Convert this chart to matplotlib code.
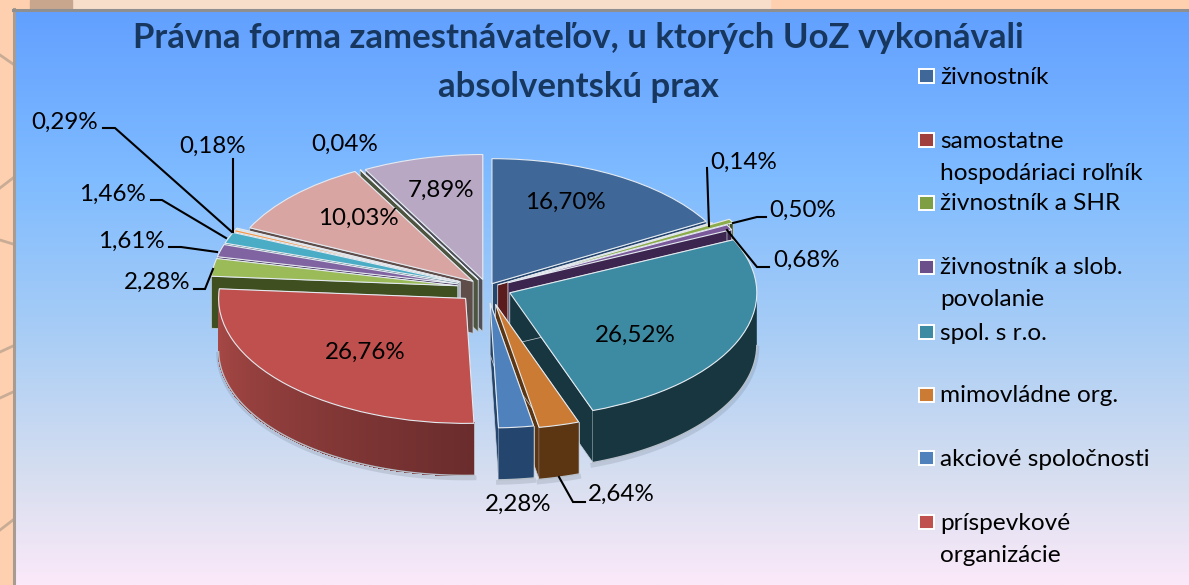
import numpy as np
import matplotlib
matplotlib.use("Agg")
import matplotlib.pyplot as plt
from matplotlib.colors import to_rgb, LinearSegmentedColormap
from matplotlib.patches import Polygon, Rectangle

plt.rcParams['font.family'] = ['Lato', 'Noto Sans', 'DejaVu Sans']

# data
title_lines = ["Právna forma zamestnávateľov, u ktorých UoZ vykonávali", "absolventskú prax"]
values = [16.70, 0.14, 0.50, 0.68, 26.52, 2.64, 2.28, 26.76, 2.28, 1.61, 1.46, 0.29, 0.18, 10.03, 0.04, 7.89]
legend_labels = ["živnostník", "samostatne\nhospodáriaci roľník", "živnostník a SHR", "živnostník a slob.\npovolanie",
                 "spol. s r.o.", "mimovládne org.", "akciové spoločnosti", "príspevkové\norganizácie"]

# styling
explode = [.04, .05, .125, .095, .1, .135, .12, .12, .12, .12, .12, .12, .12, .078, .075, .07]
top_colors = ['#3F6797', '#A03F3D', '#8CAB4B', '#7A5A9A', '#3C8BA3', '#CB7B33', '#4F81BD', '#C0504D',
              '#9BBB59', '#8064A2', '#4BACC6', '#F79646', '#C9D6EA', '#D9A5A3', '#C6D0A8', '#B8A8C4']
wall_colors = ['#24456E', '#5A1C1C', '#404F1F', '#3C2650', '#17363F', '#5C3512', '#24456E', '#6A2C2C',
               '#404F1F', '#3C2650', '#1F5866', '#8A4E1E', '#6B7488', '#5F4D4A', '#4D5540', '#50505A']
wall_left = {7: '#AA4A47'}  # the big red slice gets lighter towards the left
legend_colors = ['#3F6797', '#A03F3D', '#7F9F45', '#6A4F8A', '#3C8BA3', '#CB7B33', '#4F81BD', '#C0504D']
legend_y = [77, 141, 204, 268, 333, 396, 459, 523]
label_xy = [(565, 202), (744, 162), (803, 210), (806, 260), (635, 335), (621, 494), (518, 504), (365, 352),
            (157, 282), (131, 241), (112, 194), (65, 122), (213, 146), (358, 218), (345, 144), (441, 190)]
leaders = [[(707, 168), (709, 226)],
           [(766, 217), (757, 217), (733, 223)],
           [(769, 267), (757, 267), (727, 230)],
           [(585, 502), (573, 502), (559, 477)],
           [(194, 289), (205, 289), (213, 269)],
           [(169, 247), (181, 247), (217, 252)],
           [(151, 200), (162, 200), (226, 238)],
           [(103, 128), (115, 128), (232, 232)],
           [(233, 159), (233, 232)]]

W, H = 1189, 585
CX, CY, RX, RY = 487, 288, 247, 125
DEPTH = 52 / RY


def d(x, y):
    # picture pixels to pie units
    return (x - CX) / RX, (CY - y) / RY


fig = plt.figure(figsize=(W / 100, H / 100), dpi=100, facecolor='#FFD0B0')

# background
bg = fig.add_axes([0, 0, 1, 1], zorder=0)
bg.set_xlim(0, W)
bg.set_ylim(H, 0)
bg.axis('off')
grad = LinearSegmentedColormap.from_list('g', [(0, '#62A0FF'), (.3, '#80BCFF'), (.55, '#A6CCF6'),
                                               (.82, '#D8DFF0'), (1, '#FBE9F9')])
bg.imshow(np.linspace(0, 1, 256)[:, None], cmap=grad, aspect='auto', extent=(14, W, H, 10), zorder=2)
bg.set_xlim(0, W)
bg.set_ylim(H, 0)
bg.add_patch(Rectangle((70, 0), 700, 10, color='#F6DECB', zorder=1))
bg.add_patch(Rectangle((30, 0), 42, 10, color='#C8A68E', zorder=1))
bg.plot([14, 14], [9, H], color='#A89C92', lw=2.2, zorder=3)
bg.plot([13, W], [10, 10], color='#8F8F8F', lw=2.2, zorder=3)
for seg in [[(0, 55), (13, 64)], [(0, 188), (13, 178)], [(0, 240), (13, 244)], [(0, 352), (13, 346)],
            [(0, 398), (13, 392)], [(0, 530), (13, 520)]]:
    bg.plot(*zip(*seg), color='#C9AC95', lw=2, zorder=1)

# pie
ax = fig.add_axes([0, 0, 1, 1], zorder=1)
wedges, _ = ax.pie(values, explode=explode, colors=top_colors, startangle=90, counterclock=False, frame=True,
                   wedgeprops={'edgecolor': '#E4EAF0', 'linewidth': 0.8})
ax.set_aspect('auto')
ax.set_xlim(-CX / RX, (W - CX) / RX)
ax.set_ylim(-(H - CY) / RY, CY / RY)
ax.axis('off')
ax.patch.set_alpha(0)

for i, w in enumerate(wedges):
    mid = np.radians((w.theta1 + w.theta2) / 2)
    z = 10 + 10 * (1 - np.sin(mid)) + i * 0.001
    cx, cy = w.center
    col = wall_colors[i]
    # the two flat sides
    for th in (w.theta1, w.theta2):
        t = np.radians(th)
        rim = (cx + np.cos(t), cy + np.sin(t))
        ax.add_patch(Polygon([(cx, cy), rim, (rim[0], rim[1] - DEPTH), (cx, cy - DEPTH)], closed=True,
                             facecolor=col, edgecolor='#C8D0D8', lw=0.5, zorder=z))
    # outer curved wall, only the part facing us
    a = np.radians(np.arange(w.theta1, w.theta2, 1.0))
    a = np.append(a, np.radians(w.theta2))
    a = a[np.sin(a) < 0.001]
    if len(a) > 1:
        bx, by = cx + np.cos(a), cy + np.sin(a)
        # soft shadow under the wall
        ax.plot(bx, by - DEPTH - 2.5 / RY, color='#5A6470', alpha=0.18, lw=3.5, zorder=1)
        outline = list(zip(bx, by)) + list(zip(bx[::-1], by[::-1] - DEPTH))
        ax.add_patch(Polygon(outline, closed=True, facecolor=col, edgecolor='none', zorder=z))
        if i in wall_left:
            c1, c0 = to_rgb(col), to_rgb(wall_left[i])
            for k, (a0, a1) in enumerate(zip(a[:-1], a[1:])):
                f = k / (len(a) - 2)
                shade = tuple(c0[n] * (1 - f) + c1[n] * f for n in range(3))
                quad = [(cx + np.cos(a0), cy + np.sin(a0)), (cx + np.cos(a1), cy + np.sin(a1)),
                        (cx + np.cos(a1), cy + np.sin(a1) - DEPTH), (cx + np.cos(a0), cy + np.sin(a0) - DEPTH)]
                ax.add_patch(Polygon(quad, closed=True, facecolor=shade, edgecolor=shade, lw=0.8,
                                     antialiased=False, zorder=z))
        ax.plot(bx, by - DEPTH, color='#B8C0CA', lw=1.0, zorder=z + 0.01)
        if np.sin(np.radians(w.theta2)) < 0:
            ax.plot([bx[-1]] * 2, [by[-1], by[-1] - DEPTH], color='#C8D0D8', lw=0.6, zorder=z + 0.01)
    w.set_zorder(z + 0.02)

# value labels
for v, (x, y) in zip(values, label_xy):
    ax.text(*d(x, y), f"{v:.2f}".replace('.', ',') + '%', fontsize=17.4, color='black', ha='center', va='center', zorder=60)

for pts in leaders:
    xs, ys = zip(*[d(*p) for p in pts])
    ax.plot(xs, ys, color='black', lw=1.5, zorder=55, solid_joinstyle='miter')

# title
for line, y in zip(title_lines, [38, 87]):
    ax.text(*d(578, y), line, fontsize=25, fontweight='bold', color='#17375E', ha='center', va='center', zorder=60)

# legend, runs off the bottom like in the original
for lab, col, y in zip(legend_labels, legend_colors, legend_y):
    x0, y0 = d(919, y + 6)
    x1, y1 = d(934, y - 8)
    ax.add_patch(Rectangle((x0, y0), x1 - x0, y1 - y0, facecolor=col, edgecolor='white', lw=1.4, zorder=60))
    for k, part in enumerate(lab.split('\n')):
        ax.text(*d(940, y + k * 32), part, fontsize=17.6, color='black', ha='left', va='center', zorder=60)

fig.savefig('out.png', dpi=100, facecolor=fig.get_facecolor())
